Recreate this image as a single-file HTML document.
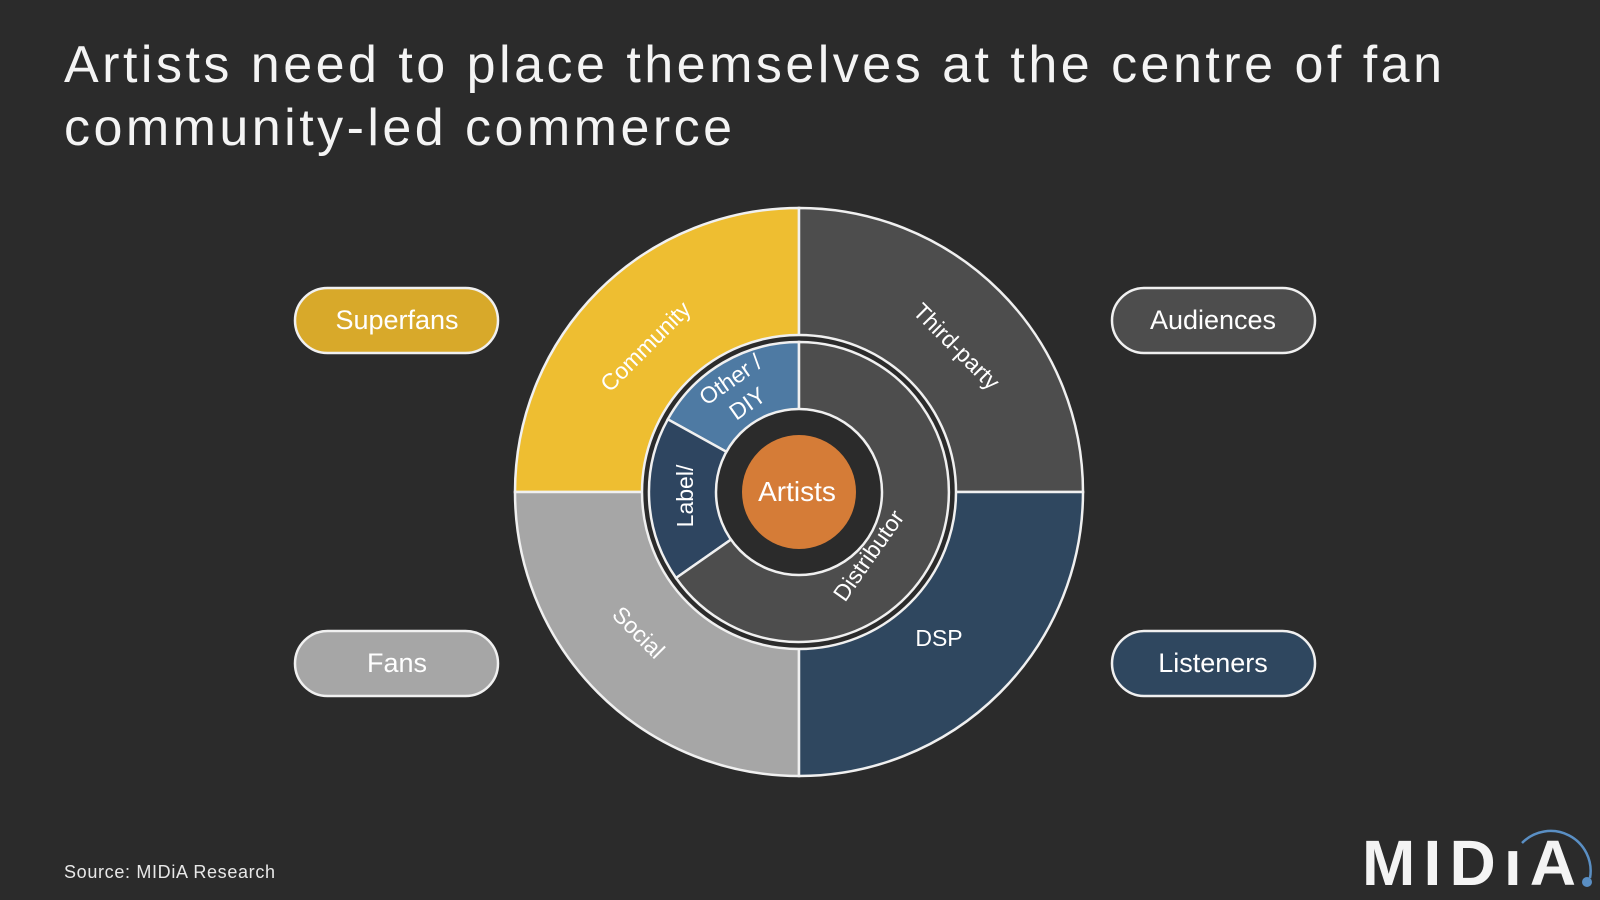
<!DOCTYPE html>
<html><head><style>
body{margin:0;width:1600px;height:900px;background:#2b2b2b;overflow:hidden;font-family:"Liberation Sans",sans-serif;}
</style></head><body>
<svg width="1600" height="900" viewBox="0 0 1600 900" xmlns="http://www.w3.org/2000/svg" style="position:absolute;left:0;top:0">
<text x="64" y="82" fill="#f4f4f4" font-size="52" font-family="Liberation Sans" textLength="1378" lengthAdjust="spacing">Artists need to place themselves at the centre of fan</text>
<text x="64" y="145" fill="#f4f4f4" font-size="52" font-family="Liberation Sans" textLength="668" lengthAdjust="spacing">community-led commerce</text>
<g stroke="#f0f0f0" stroke-width="2.5">
<path d="M799 492 L799 208 A284 284 0 0 0 515 492 Z" fill="#eebe31"/>
<path d="M799 492 L799 208 A284 284 0 0 1 1083 492 Z" fill="#4d4d4d"/>
<path d="M799 492 L515 492 A284 284 0 0 0 799 776 Z" fill="#a6a6a6"/>
<path d="M799 492 L1083 492 A284 284 0 0 1 799 776 Z" fill="#2f475f"/>
</g>
<circle cx="799" cy="492" r="157" fill="#2b2b2b" stroke="#f0f0f0" stroke-width="2.5"/>
<g stroke="#f0f0f0" stroke-width="2.5">
<path d="M799 492 L799 342 A150 150 0 0 0 667.8 419.3 Z" fill="#4e7aa3"/>
<path d="M799 492 L667.8 419.3 A150 150 0 0 0 676 578 Z" fill="#2e4560"/>
<path d="M799 492 L676 578 A150 150 0 1 0 799 342 Z" fill="#4d4d4d"/>
</g>
<circle cx="799" cy="492" r="83" fill="#2b2b2b" stroke="#f0f0f0" stroke-width="2.5"/>
<circle cx="799" cy="492" r="57" fill="#d57c37"/>
<text x="797" y="501" fill="#fff" font-size="28" text-anchor="middle">Artists</text>
<g fill="#fff" font-size="23" text-anchor="middle">
<text transform="translate(651,352) rotate(-45)">Community</text>
<text transform="translate(951,352) rotate(45)">Third-party</text>
<text transform="translate(633,638) rotate(45)">Social</text>
<text x="939" y="646">DSP</text>
<text transform="translate(875,560) rotate(-55)">Distributor</text>
<text transform="translate(693,496) rotate(-90)">Label/</text>
<text transform="translate(735,386) rotate(-35)">Other /</text>
<text transform="translate(752,410) rotate(-35)">DIY</text>
</g>
<g stroke="#f0f0f0" stroke-width="2.5">
<rect x="295" y="288" width="203" height="65" rx="32.5" fill="#d8a92a"/>
<rect x="295" y="631" width="203" height="65" rx="32.5" fill="#a6a6a6"/>
<rect x="1112" y="288" width="203" height="65" rx="32.5" fill="#4d4d4d"/>
<rect x="1112" y="631" width="203" height="65" rx="32.5" fill="#2f475f"/>
</g>
<g fill="#fff" font-size="27" text-anchor="middle">
<text x="397" y="329">Superfans</text>
<text x="397" y="672">Fans</text>
<text x="1213" y="329">Audiences</text>
<text x="1213" y="672">Listeners</text>
</g>
<text x="64" y="878" fill="#e8e8e8" font-size="18" textLength="211" lengthAdjust="spacing">Source: MIDiA Research</text>
<text x="1362" y="885" fill="#f4f4f4" font-size="64" font-weight="bold" textLength="214" lengthAdjust="spacing">MIDıA</text>
<path d="M1522 843 A40 40 0 0 1 1590 878" fill="none" stroke="#5a8fc4" stroke-width="2.5"/>
<circle cx="1587" cy="882" r="5" fill="#5a8fc4"/>
</svg>
</body></html>
